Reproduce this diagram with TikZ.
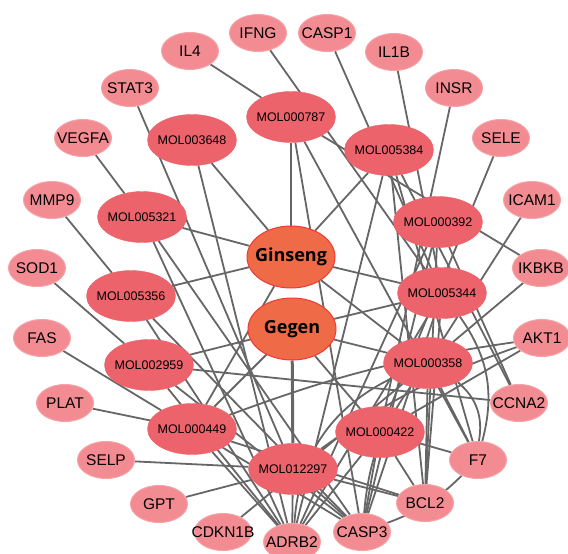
\documentclass[tikz,border=0pt]{standalone}
\usepackage{fontspec}
\setmainfont{Liberation Sans}
\newfontfamily\herbfont{Open Sans}
\usetikzlibrary{shapes,backgrounds,calc}
\definecolor{genefill}{RGB}{242,140,146}
\definecolor{genedraw}{RGB}{246,162,166}
\definecolor{molfill}{RGB}{236,99,107}
\definecolor{herbfill}{RGB}{239,106,70}
\definecolor{herbdraw}{RGB}{238,58,52}
\definecolor{edgegray}{RGB}{102,102,102}

\begin{document}
\begin{tikzpicture}[
x=1pt,y=-1pt,
base/.style={
  ellipse,
  inner sep=0pt,
  execute at begin node={\hbox to 0pt\bgroup\hss},
  execute at end node={\hss\egroup}
},
gene/.style={
  base,
  fill=genefill,
  draw=genedraw,
  line width=1pt,
  minimum width=57pt,
  minimum height=37pt,
  font=\fontsize{15.5}{16}\selectfont
},
mol/.style={
  base,
  fill=molfill,
  draw=molfill,
  minimum width=89pt,
  minimum height=51pt,
  font=\fontsize{12.5}{13}\selectfont
},
herb/.style={
  base,
  fill=herbfill,
  draw=herbdraw,
  line width=1pt,
  minimum width=88pt,
  minimum height=62pt,
  font=\herbfont\bfseries\fontsize{18}{20}\selectfont
},
link/.style={
  draw=edgegray,
  line width=1.8pt
}
]
\useasboundingbox (0,0) rectangle (568,554);

% herbs
\node[herb] (ginseng) at (291,257) {Ginseng};
\node[herb] (gegen) at (292,329) {Gegen};

% compounds
\node[mol] (m0787) at (291,117) {MOL000787};
\node[mol] (m3648) at (192,140) {MOL003648};
\node[mol] (m5384) at (389,150) {MOL005384};
\node[mol] (m5321) at (142,217) {MOL005321};
\node[mol] (m0392) at (438,222) {MOL000392};
\node[mol] (m5356) at (131,296) {MOL005356};
\node[mol] (m5344) at (442,293) {MOL005344};
\node[mol] (m2959) at (149,365) {MOL002959};
\node[mol] (m0358) at (428,363) {MOL000358};
\node[mol] (m0449) at (192,429) {MOL000449};
\node[mol] (m0422) at (380,432) {MOL000422};
\node[mol] (m12297) at (293,469) {MOL012297};

% targets
\node[gene] (il4) at (190,51) {IL4};
\node[gene] (ifng) at (258,33) {IFNG};
\node[gene] (casp1) at (327,33) {CASP1};
\node[gene] (il1b) at (394,52) {IL1B};
\node[gene] (insr) at (454,88) {INSR};
\node[gene] (sele) at (501,138) {SELE};
\node[gene] (icam1) at (532,200) {ICAM1};
\node[gene] (ikbkb) at (541,268) {IKBKB};
\node[gene] (akt1) at (542,338) {AKT1};
\node[gene] (ccna2) at (519,403) {CCNA2};
\node[gene] (f7) at (478,460) {F7};
\node[gene] (bcl2) at (425,503) {BCL2};
\node[gene] (casp3) at (362,532) {CASP3};
\node[gene] (adrb2) at (292,542) {ADRB2};
\node[gene] (cdkn1b) at (223,532) {CDKN1B};
\node[gene] (gpt) at (159,504) {GPT};
\node[gene] (selp) at (106,460) {SELP};
\node[gene] (plat) at (65,403) {PLAT};
\node[gene] (fas) at (42,338) {FAS};
\node[gene] (sod1) at (37,268) {SOD1};
\node[gene] (mmp9) at (52,200) {MMP9};
\node[gene] (vegfa) at (83,138) {VEGFA};
\node[gene] (stat3) at (130,88) {STAT3};

\begin{scope}[on background layer]
% herb - compound
\draw[link] (ginseng) -- (m0787);
\draw[link] (ginseng) -- (m3648);
\draw[link] (ginseng) -- (m5321);
\draw[link] (ginseng) -- (m5356);
\draw[link] (ginseng) -- (m0449);
\draw[link] (ginseng) -- (m5384);
\draw[link] (ginseng) -- (m5344);
\draw[link] (ginseng) -- (m0358);
\draw[link,line width=3pt] (gegen) -- (m12297);
\draw[link] (gegen) -- (m2959);
\draw[link] (gegen) -- (m0449);
\draw[link] (gegen) -- (m0358);
\draw[link] (gegen) -- (m5344);
\draw[link] (gegen) -- (m0422);

% compound - target
\draw[link] (m0787) -- (il4);
\draw[link] (m0787) -- (ikbkb);
\draw[link] (m0787) -- (f7);
\draw[link] (m0787) -- (casp3);
\draw[link] (m3648) -- (adrb2);
\draw[link] (m5384) -- (adrb2);
\draw[link] (m5384) -- (f7);
\draw[link] (m5384) -- (ccna2);
\draw[link] (m5384) -- (bcl2);
\draw[link] (m5321) -- (vegfa);
\draw[link] (m5321) -- (adrb2);
\draw[link] (m5321) -- (casp3);
\draw[link] (m0392) -- (ccna2);
\draw[link] (m0392) -- (adrb2);
\draw[link] (m0392) -- (casp3);
\draw[link] (m0392) -- (bcl2);
\draw[link] (m5356) -- (mmp9);
\draw[link] (m5356) -- (adrb2);
\draw[link] (m5356) -- (casp3);
\draw[link] (m5344) -- (ifng);
\draw[link] (m5344) -- (casp1);
\draw[link] (m5344) -- (il1b);
\draw[link] (m5344) -- (adrb2);
\draw[link] (m5344) -- (casp3);
\draw[link] (m5344) -- (bcl2);
\draw[link] (m5344) to[bend left=25] (f7);
\draw[link] (m2959) -- (sod1);
\draw[link] (m2959) -- (ccna2);
\draw[link] (m2959) -- (adrb2);
\draw[link] (m2959) -- (casp3);
\draw[link] (m0358) -- (icam1);
\draw[link] (m0358) -- (ikbkb);
\draw[link] (m0358) -- (cdkn1b);
\draw[link] (m0358) -- (bcl2);
\draw[link] (m0358) -- (f7);
\draw[link] (m0358) to[bend left=30] (f7);
\draw[link] (m0358) to[bend right=15] (casp3);
\draw[link] (m0358) to[bend right=30] (adrb2);
\draw[link] (m0449) -- (fas);
\draw[link] (m0449) -- (plat);
\draw[link] (m0449) -- (adrb2);
\draw[link] (m0449) -- (casp3);
\draw[link] (m0449) -- (bcl2);
\draw[link] (m0422) -- (insr);
\draw[link] (m0422) -- (sele);
\draw[link] (m0422) -- (f7);
\draw[link] (m0422) -- (bcl2);
\draw[link] (m0422) -- (casp3);
\draw[link] (m0422) -- (adrb2);
\draw[link] (m0422) -- (akt1);
\draw[link] (m12297) -- (stat3);
\draw[link] (m12297) -- (selp);
\draw[link] (m12297) -- (gpt);
\draw[link] (m12297) -- (adrb2);
\draw[link] (m12297) -- (casp3);
\draw[link] (m12297) -- (bcl2);
\draw[link] (m12297) to[bend left=8] (akt1);
\draw[link] (m0449) to[bend left=6] (akt1);

% target - target
\draw[link] (casp3) to[bend right=12] (f7);
\end{scope}
\end{tikzpicture}
\end{document}
